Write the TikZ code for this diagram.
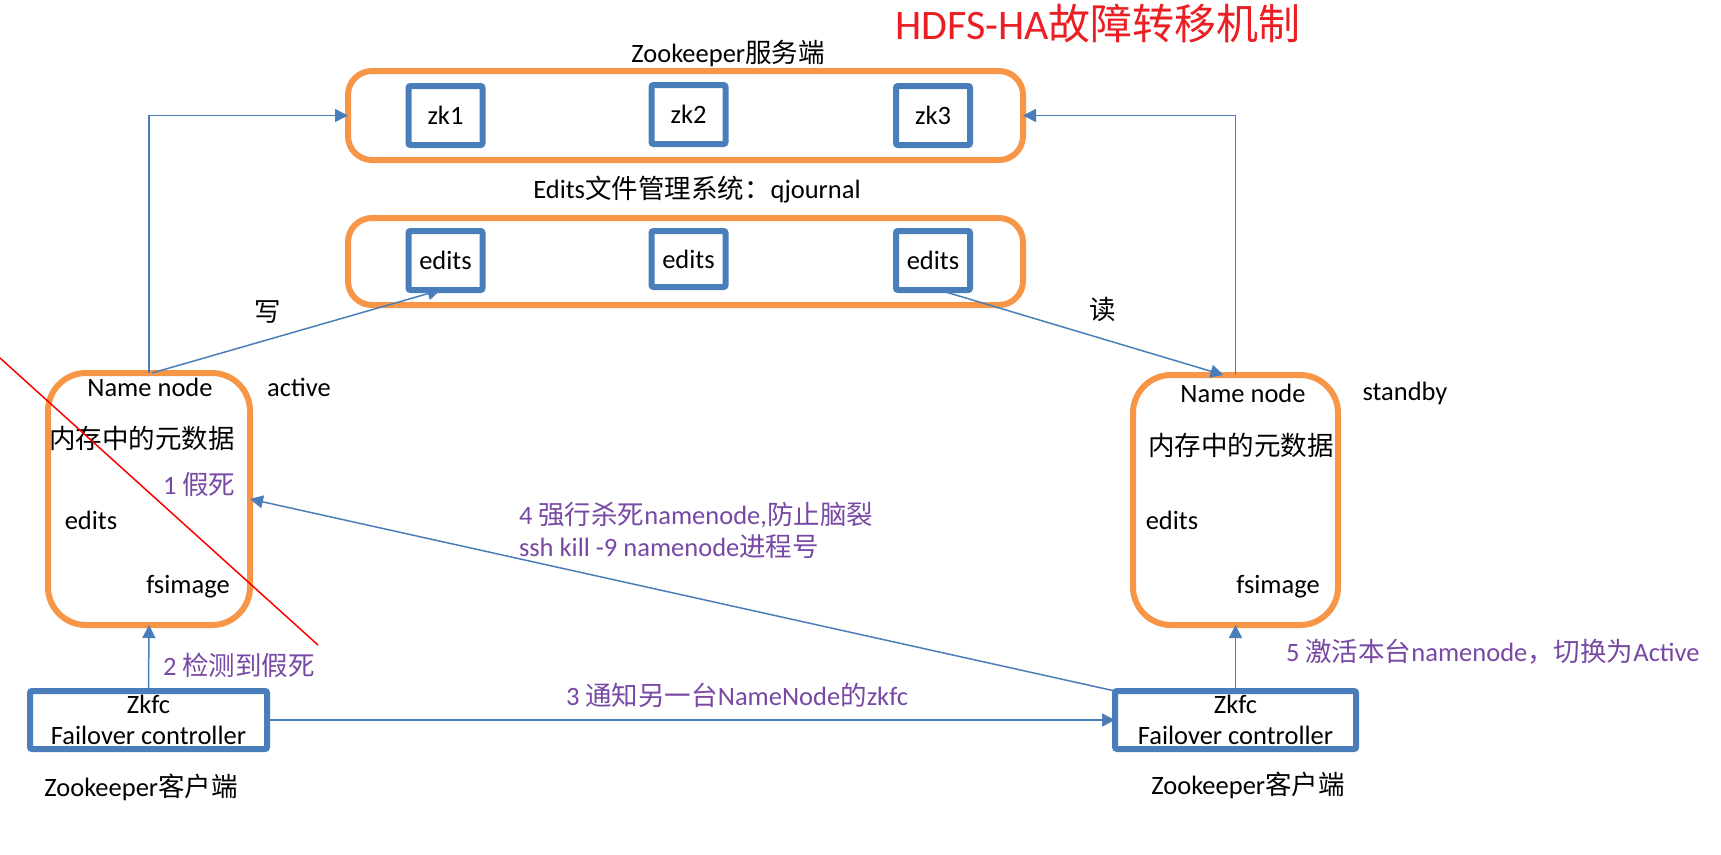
\documentclass[tikz,border=0pt]{standalone}
\usepackage{fontspec}
\setmainfont{Carlito}
\newfontfamily\cjk{Noto Sans CJK SC}
\usetikzlibrary{arrows.meta}
\definecolor{orng}{RGB}{247,150,70}
\definecolor{bluebox}{RGB}{74,126,187}
\definecolor{connblue}{RGB}{74,126,187}
\definecolor{purp}{RGB}{120,72,165}
\definecolor{ttlred}{RGB}{235,30,35}
\newcommand{\zh}[1]{{\cjk #1}}
\begin{document}
\begin{tikzpicture}[x=1pt,y=-1pt,
  every node/.style={inner sep=0pt, outer sep=0pt, font=\fontsize{26.5}{31}\selectfont},
  obox/.style={draw=orng, line width=6pt, rounded corners=24pt},
  nnbox/.style={draw=orng, line width=6pt, rounded corners=38pt, minimum width=202pt, minimum height=252pt},
  bbox/.style={draw=bluebox, line width=6pt, rounded corners=2pt},
  smallbox/.style={bbox, minimum width=74pt, minimum height=59pt},
  zkfcbox/.style={bbox, minimum height=58pt, align=center},
  lbl/.style={text=black},
  plbl/.style={text=purp, anchor=west},
  conn/.style={draw=connblue, line width=1.5pt, -{Triangle[length=13pt,width=13pt]}},
  strike/.style={draw=red, line width=1.5pt}
]
\path[use as bounding box, fill=white] (0,0) rectangle (1721,854);

% title
\node[text=ttlred, font=\fontsize{42}{46}\selectfont] (title) at (1098,24) {HDFS-HA\zh{故障转移机制}};

% zookeeper server
\node[lbl] (zklabel) at (728,53) {Zookeeper\zh{服务端}};
\node[obox, minimum width=675pt, minimum height=89pt] (zkbox) at (685.5,115.5) {};
\node[smallbox] (zk1) at (445.5,115.5) {\raisebox{-4pt}{zk1}};
\node[smallbox] (zk2) at (688.5,114.5) {zk2};
\node[smallbox] (zk3) at (933,115.5) {zk3};

% edits system
\node[lbl] (edlabel) at (697,190) {Edits\zh{文件管理系统：}qjournal};
\node[obox, minimum width=675pt, minimum height=87pt] (edbox) at (685.5,261.5) {};
\node[smallbox] (e1) at (445.5,260.5) {\raisebox{-3pt}{edits}};
\node[smallbox, minimum height=56pt] (e2) at (688.5,259) {edits};
\node[smallbox] (e3) at (933,260.5) {edits};

% active namenode
\node[nnbox] (nnA) at (149,499) {};
\node[lbl] (nnAname) at (150,387) {Name node};
\node[lbl] (nnAact) at (299,387) {active};
\node[lbl] (nnAmem) at (142,438) {\zh{内存中的元数据}};
\node[lbl] (nnAed) at (91,520) {edits};
\node[lbl] (nnAfs) at (188,587) {fsimage};

% standby namenode
\node[nnbox, minimum width=205pt, minimum height=250pt] (nnS) at (1235.5,500) {};
\node[lbl] (nnSname) at (1243,393) {Name node};
\node[lbl] (nnSsb) at (1405,393) {standby};
\node[lbl] (nnSmem) at (1241,445) {\zh{内存中的元数据}};
\node[lbl] (nnSed) at (1172,520) {edits};
\node[lbl] (nnSfs) at (1278,587) {fsimage};

% zkfc boxes
\node[zkfcbox, minimum width=237pt] (zkfcL) at (148.5,720) {Zkfc\\Failover controller};
\node[zkfcbox, minimum width=241pt] (zkfcR) at (1235.5,720) {Zkfc\\Failover controller};
\node[lbl] (cliL) at (141,787) {Zookeeper\zh{客户端}};
\node[lbl] (cliR) at (1248,785) {Zookeeper\zh{客户端}};

% write / read labels
\node[lbl] (wlbl) at (268,312) {\zh{写}};
\node[lbl] (rlbl) at (1103,309) {\zh{读}};

% purple step labels
\node[plbl] (s1) at (163,485) {1 \zh{假死}};
\node[plbl] (s2) at (163,665) {2 \zh{检测到假死}};
\node[plbl] (s3) at (566,695) {3 \zh{通知另一台}NameNode\zh{的}zkfc};
\node[plbl] (s4a) at (519,515) {4 \zh{强行杀死}namenode,\zh{防止脑裂}};
\node[plbl] (s4b) at (519,547) {ssh kill -9 namenode\zh{进程号}};
\node[plbl] (s5) at (1286,652) {5 \zh{激活本台}namenode\zh{，切换为}Active};

% connectors
\draw[conn] (nnA.north) |- (zkbox.west);
\draw[conn] (nnS.north) |- (zkbox.east);
\draw[conn] ([xshift=3pt]nnA.north) -- ([xshift=-5pt]e1.south);
\draw[conn] ([xshift=6pt]e3.south) -- ([xshift=-12pt]nnS.north);
\draw[conn] (zkfcL.north) -- (nnA.south);
\draw[conn] (zkfcR.north) -- (nnS.south);
\draw[conn] (zkfcL.east) -- (zkfcR.west);
\draw[conn] (zkfcR.north west) -- (nnA.east);

% strike-through
\coordinate (rs) at (0,358);
\coordinate (re) at (318,645);
\draw[strike] (rs) -- (re);
\end{tikzpicture}
\end{document}
